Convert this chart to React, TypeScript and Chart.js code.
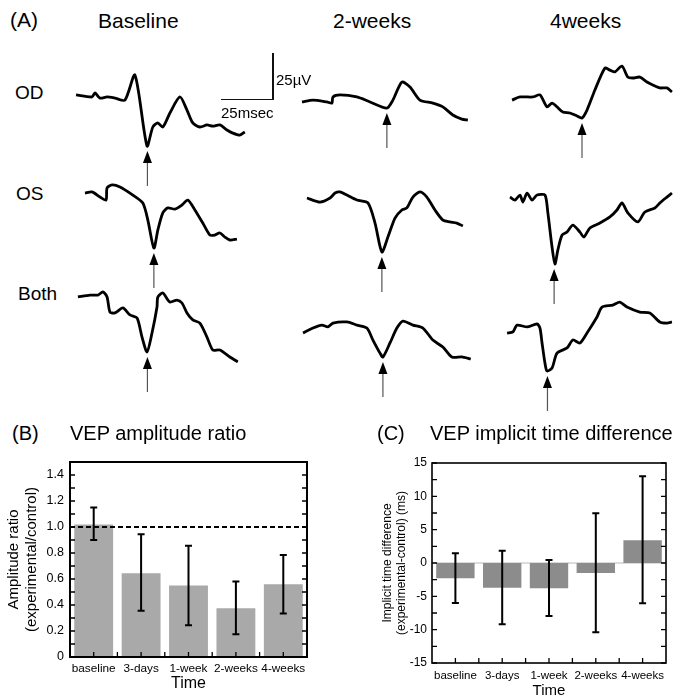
import React, { useEffect, useRef } from 'react';
import { Chart, registerables } from 'chart.js';

Chart.register(...registerables);

const FONT = '"Liberation Sans", Arial, Helvetica, sans-serif';
Chart.defaults.font.family = FONT;
Chart.defaults.color = '#000';

// ---------- Panel B : VEP amplitude ratio ----------
const timeLabels = ['baseline', '3-days', '1-week', '2-weeks', '4-weeks'];
const ampRatio = [1.02, 0.645, 0.55, 0.375, 0.56];
const ampErrLow = [0.9, 0.355, 0.245, 0.175, 0.335];
const ampErrHigh = [1.15, 0.945, 0.855, 0.58, 0.785];
const ampReference = 1;

// ---------- Panel C : VEP implicit time difference (ms) ----------
const timeDiff = [-2.3, -3.7, -3.8, -1.5, 3.4];
const timeErrLow = [-6.0, -9.2, -7.95, -10.4, -6.05];
const timeErrHigh = [1.45, 1.85, 0.45, 7.45, 13.0];

// ---------- Panel A : VEP traces, [time ms, amplitude µV] ----------
const baselineOD = [[2.9, 1.6], [10.6, 0.5], [12.0, 2.7], [14.4, -0.1], [17.8, 0.5], [21.6, -0.1], [26.4, -1.2], [31.2, 12.4], [37.0, -26.1], [39.8, -15.8], [42.2, -13.6], [44.6, -15.8], [48.0, -8.2], [52.8, 0.5], [56.2, -6.6], [59.0, -13.6], [62.4, -15.8], [65.8, -14.7], [68.6, -15.3], [72.0, -14.7], [75.4, -17.4], [78.2, -19.1], [81.6, -20.2], [84.0, -18.5]];
const week2OD = [[1.9, -2.2], [7.2, -1.2], [13.9, -2.2], [16.3, -2.8], [16.8, 0.5], [20.2, 1.6], [28.3, 0.5], [34.6, -2.2], [42.7, -5.5], [45.6, -1.2], [49.9, 8.6], [53.8, 5.9], [58.6, -1.2], [64.8, -2.8], [69.6, -4.9], [74.4, -9.3], [78.7, -11.5], [81.6, -12.0]];
const week4OD = [[5.8, -1.2], [9.6, 0.5], [15.8, 0.5], [19.2, 1.6], [22.6, -4.9], [25.0, -2.8], [27.4, -4.9], [30.2, -7.7], [33.6, -8.2], [37.0, -9.8], [39.4, -10.9], [41.8, -6.6], [45.6, 4.3], [50.4, 16.2], [52.8, 15.1], [55.2, 14.1], [58.6, 17.3], [61.4, 11.3], [63.8, 10.8], [67.2, 11.3], [70.6, 8.6], [73.4, 7.0], [76.8, 5.4], [80.2, 5.4], [82.6, 3.2]];
const baselineOS = [[7.2, 13.5], [10.6, 14.1], [14.4, 11.3], [17.3, 9.7], [17.8, 16.2], [20.2, 17.9], [24.0, 16.8], [30.2, 12.4], [35.0, 8.1], [37.4, -1.2], [40.3, -16.4], [42.2, -6.6], [44.6, 2.7], [47.0, 5.4], [50.4, 4.8], [53.8, 7.0], [56.6, 9.7], [60.0, 4.3], [63.8, -2.8], [67.2, -9.3], [69.6, -9.3], [72.0, -8.2], [74.4, -10.4], [76.8, -12.0], [80.2, -11.5]];
const week2OS = [[4.3, 10.8], [10.6, 8.6], [15.4, 10.8], [17.8, 13.5], [20.2, 14.1], [23.5, 12.4], [28.3, 9.7], [33.6, 8.1], [37.0, -2.8], [40.3, -18.5], [43.2, -10.4], [46.6, -0.1], [49.9, 4.3], [52.3, 5.4], [55.2, 11.3], [58.6, 14.1], [61.9, 11.3], [65.8, 4.3], [69.6, -1.2], [73.0, -2.2], [76.3, -2.8], [79.2, -4.4]];
const week4OS = [[4.8, 11.3], [7.2, 9.7], [9.6, 12.4], [11.0, 8.6], [13.0, 13.5], [15.4, 9.7], [17.8, 12.4], [21.6, 12.4], [23.0, 2.7], [25.0, -15.8], [26.4, -25.0], [27.8, -17.4], [29.8, -9.3], [32.2, -7.7], [35.0, -3.9], [38.4, -7.7], [40.3, -10.4], [43.2, -5.5], [48.0, -2.8], [52.8, 0.5], [56.2, 4.3], [58.6, 8.1], [61.4, 2.7], [66.2, -2.2], [69.6, 3.2], [74.4, 5.4], [76.8, 8.1], [80.2, 11.3], [82.6, 13.5]];
const baselineBoth = [[3.8, 14.1], [9.6, 15.1], [13.4, 15.1], [15.8, 16.8], [17.8, 14.1], [19.2, 5.9], [21.6, 5.4], [25.4, 8.1], [28.8, 4.3], [32.2, 2.7], [34.6, -7.7], [37.0, -15.8], [39.4, -5.5], [41.8, 8.6], [42.2, 14.1], [44.6, 16.2], [48.0, 11.3], [51.4, 12.4], [53.8, 10.8], [56.2, 5.4], [59.0, 1.6], [62.4, -0.1], [65.8, -7.7], [68.6, -14.7], [72.0, -14.7], [76.8, -18.5], [80.6, -21.2]];
const week2Both = [[2.4, -5.5], [7.2, -2.8], [11.5, -1.2], [14.4, -2.2], [16.8, -0.1], [23.5, 0.5], [28.3, -1.2], [33.1, -2.8], [36.0, -9.3], [39.4, -16.4], [40.8, -18.5], [44.2, -10.9], [47.5, -2.8], [50.4, 1.0], [55.2, -1.2], [60.0, -2.8], [64.8, -9.3], [69.6, -13.1], [73.9, -18.5], [78.7, -18.5], [83.0, -19.6]];
const week4Both = [[3.4, -5.5], [6.2, -4.9], [8.2, -1.2], [13.0, -2.2], [17.8, -0.6], [19.2, -2.8], [20.2, -10.9], [21.6, -21.8], [22.6, -26.1], [25.0, -24.5], [27.4, -16.4], [32.2, -13.6], [35.0, -9.3], [38.4, -10.9], [41.8, -5.5], [46.6, 3.2], [49.0, 8.6], [54.2, 9.7], [57.6, 11.3], [61.0, 8.6], [67.2, 5.9], [72.0, 5.4], [76.8, 0.5], [80.2, -0.1], [82.6, 0.5]];

// trough markers (arrows), [latency ms, amplitude µV]
const troughBaselineOD = [37.2, -26.1];
const troughWeek2OD = [42.7, -5.5];
const troughWeek4OD = [39.4, -10.9];
const troughBaselineOS = [40.3, -16.4];
const troughWeek2OS = [40.3, -18.5];
const troughWeek4OS = [26.0, -25.0];
const troughBaselineBoth = [37.2, -15.8];
const troughWeek2Both = [40.8, -18.5];
const troughWeek4Both = [22.8, -26.1];

const columnHeaders = ['Baseline', '2-weeks', '4weeks'];
const rowLabels = ['OD', 'OS', 'Both'];

// layout of trace cells (positions only)
const COL_LEFT = [70, 298, 500];
const ROW_TOP = [50, 170, 275];
const CELL_W = 179;
const CELL_H = 140;

const traceGrid = [
  [baselineOD, week2OD, week4OD],
  [baselineOS, week2OS, week4OS],
  [baselineBoth, week2Both, week4Both],
];
const troughGrid = [
  [troughBaselineOD, troughWeek2OD, troughWeek4OD],
  [troughBaselineOS, troughWeek2OS, troughWeek4OS],
  [troughBaselineBoth, troughWeek2Both, troughWeek4Both],
];

const arrowPlugin = {
  id: 'troughArrow',
  afterDatasetsDraw(chart: any, _args: any, opts: any) {
    const { ctx, scales } = chart;
    const px = scales.x.getPixelForValue(opts.latency);
    const tip = scales.y.getPixelForValue(opts.amp) + 5;
    ctx.save();
    ctx.strokeStyle = '#555';
    ctx.lineWidth = 1.2;
    ctx.beginPath();
    ctx.moveTo(px, tip + 10);
    ctx.lineTo(px, tip + 35);
    ctx.stroke();
    ctx.fillStyle = '#000';
    ctx.beginPath();
    ctx.moveTo(px, tip);
    ctx.lineTo(px - 4.5, tip + 12);
    ctx.lineTo(px + 4.5, tip + 12);
    ctx.closePath();
    ctx.fill();
    ctx.restore();
  },
};

function TraceChart({ points, trough, left, top }: any) {
  const ref = useRef<HTMLCanvasElement | null>(null);
  useEffect(() => {
    const chart = new Chart(ref.current as HTMLCanvasElement, {
      type: 'scatter',
      data: {
        datasets: [
          {
            data: points.map((p: number[]) => ({ x: p[0], y: p[1] })),
            showLine: true,
            borderColor: '#000',
            borderWidth: 2.8,
            pointRadius: 0,
            tension: 0.25,
            fill: false,
          },
        ],
      },
      options: {
        animation: false,
        responsive: false,
        events: [],
        layout: { padding: 0 },
        plugins: {
          legend: { display: false },
          tooltip: { enabled: false },
          troughArrow: { latency: trough[0], amp: trough[1] },
        } as any,
        scales: {
          x: { type: 'linear', display: false, min: 0, max: 86 },
          y: { type: 'linear', display: false, min: -50, max: 26 },
        },
      },
      plugins: [arrowPlugin],
    } as any);
    return () => chart.destroy();
  }, []);
  return (
    <canvas
      ref={ref}
      width={CELL_W}
      height={CELL_H}
      style={{ position: 'absolute', left, top, width: CELL_W, height: CELL_H }}
    />
  );
}

const frameTicksPlugin = {
  id: 'frameTicks',
  beforeDatasetsDraw(chart: any, _args: any, opts: any) {
    if (!opts.zeroLine) return;
    const { ctx, chartArea, scales } = chart;
    const y0 = scales.y.getPixelForValue(0);
    ctx.save();
    ctx.strokeStyle = '#b8b8b8';
    ctx.lineWidth = 1;
    ctx.beginPath();
    ctx.moveTo(chartArea.left, y0);
    ctx.lineTo(chartArea.right, y0);
    ctx.stroke();
    ctx.restore();
  },
  afterDatasetsDraw(chart: any, _args: any, opts: any) {
    const { ctx, chartArea, scales } = chart;
    const { left, right, top, bottom } = chartArea;
    const xs = scales.x;
    const ys = scales.y;
    ctx.save();
    // reference line
    if (opts.refLine !== undefined && opts.refLine !== null) {
      const py = ys.getPixelForValue(opts.refLine);
      ctx.strokeStyle = '#000';
      ctx.lineWidth = 2;
      ctx.setLineDash([5, 3]);
      ctx.beginPath();
      ctx.moveTo(left, py);
      ctx.lineTo(right, py);
      ctx.stroke();
      ctx.setLineDash([]);
    }
    // error bars
    ctx.strokeStyle = '#000';
    ctx.lineWidth = 2;
    opts.low.forEach((lo: number, i: number) => {
      const hi = opts.high[i];
      const cx = xs.getPixelForValue(i);
      const yl = ys.getPixelForValue(lo);
      const yh = ys.getPixelForValue(hi);
      ctx.beginPath();
      ctx.moveTo(cx, yl);
      ctx.lineTo(cx, yh);
      ctx.moveTo(cx - 3.5, yl);
      ctx.lineTo(cx + 3.5, yl);
      ctx.moveTo(cx - 3.5, yh);
      ctx.lineTo(cx + 3.5, yh);
      ctx.stroke();
    });
    // inward ticks on the y sides
    ctx.lineWidth = 1.3;
    const n = Math.round((opts.max - opts.min) / opts.minorStep);
    for (let k = 0; k <= n; k++) {
      const py = ys.getPixelForValue(opts.min + k * opts.minorStep);
      ctx.beginPath();
      ctx.moveTo(left, py);
      ctx.lineTo(left + 5, py);
      ctx.moveTo(right, py);
      ctx.lineTo(right - 5, py);
      ctx.stroke();
    }
    // inward ticks at the bottom (category centres and boundaries)
    const count = chart.data.labels.length;
    const step = (right - left) / count / 2;
    for (let k = 1; k < count * 2; k++) {
      const px = left + k * step;
      ctx.beginPath();
      ctx.moveTo(px, bottom);
      ctx.lineTo(px, bottom - 5);
      ctx.stroke();
    }
    // frame
    ctx.lineWidth = opts.frameWidth;
    ctx.strokeRect(left, top, right - left, bottom - top);
    ctx.restore();
  },
};

function BarPanel({ cfg, left, top, width, height }: any) {
  const ref = useRef<HTMLCanvasElement | null>(null);
  useEffect(() => {
    const chart = new Chart(ref.current as HTMLCanvasElement, {
      type: 'bar',
      data: {
        labels: timeLabels,
        datasets: [
          {
            data: cfg.values,
            backgroundColor: cfg.barColor,
            borderWidth: 0,
            barPercentage: 0.82,
            categoryPercentage: 1,
          },
        ],
      },
      options: {
        animation: false,
        responsive: false,
        events: [],
        layout: { padding: cfg.padding },
        plugins: {
          legend: { display: false },
          tooltip: { enabled: false },
          frameTicks: {
            low: cfg.low,
            high: cfg.high,
            refLine: cfg.refLine,
            zeroLine: cfg.zeroLine,
            min: cfg.min,
            max: cfg.max,
            minorStep: cfg.minorStep,
            frameWidth: cfg.frameWidth,
          },
        } as any,
        scales: {
          x: {
            grid: { display: false, drawTicks: false },
            border: { display: false },
            ticks: {
              color: '#000',
              font: { size: cfg.xTickSize },
              padding: cfg.xTickPad,
              maxRotation: 0,
              autoSkip: false,
            },
            title: {
              display: true,
              text: 'Time',
              color: '#000',
              font: { size: cfg.xTitleSize },
              padding: { top: 0, bottom: 2 },
            },
            afterFit: (s: any) => {
              s.height = cfg.xAxisHeight;
            },
          },
          y: {
            min: cfg.min,
            max: cfg.max,
            grid: { display: false, drawTicks: false },
            border: { display: false },
            ticks: {
              stepSize: cfg.step,
              includeBounds: false,
              color: '#000',
              font: { size: cfg.yTickSize },
              padding: cfg.yTickPad,
            },
            title: {
              display: true,
              text: cfg.yTitle,
              color: '#000',
              font: { size: cfg.yTitleSize },
              padding: { top: cfg.yTitlePad, bottom: 0 },
            },
            afterFit: (s: any) => {
              s.width = cfg.yAxisWidth;
            },
          },
        },
      },
      plugins: [frameTicksPlugin],
    } as any);
    return () => chart.destroy();
  }, []);
  return (
    <canvas
      ref={ref}
      width={width}
      height={height}
      style={{ position: 'absolute', left, top, width, height }}
    />
  );
}

const ampCfg = {
  values: ampRatio,
  low: ampErrLow,
  high: ampErrHigh,
  refLine: ampReference,
  zeroLine: false,
  barColor: '#a9a9a9',
  min: 0,
  max: 1.5,
  step: 0.2,
  minorStep: 0.1,
  frameWidth: 2,
  padding: { top: 22, right: 29, left: 0, bottom: 0 },
  xTickSize: 11.8,
  yTickSize: 12.5,
  xTickPad: 5,
  yTickPad: 6,
  xTitleSize: 16,
  yTitle: ['Amplitude ratio', '(experimental/control)'],
  yTitleSize: 15,
  yTitlePad: 5,
  xAxisHeight: 38,
  yAxisWidth: 70,
};

const timeCfg = {
  values: timeDiff,
  low: timeErrLow,
  high: timeErrHigh,
  refLine: null,
  zeroLine: true,
  barColor: '#8c8c8c',
  min: -15,
  max: 15,
  step: 5,
  minorStep: 2.5,
  frameWidth: 1.6,
  padding: { top: 23, right: 7, left: 0, bottom: 0 },
  xTickSize: 11.5,
  yTickSize: 12,
  xTickPad: 6,
  yTickPad: 5,
  xTitleSize: 15,
  yTitle: ['Implicit time difference', '(experimental-control) (ms)'],
  yTitleSize: 12,
  yTitlePad: 44,
  xAxisHeight: 39,
  yAxisWidth: 96,
};

function Label({ text, left, top, size }: any) {
  return (
    <div
      style={{
        position: 'absolute',
        left,
        top,
        fontSize: size,
        lineHeight: 1,
        whiteSpace: 'nowrap',
        color: '#000',
        fontFamily: FONT,
      }}
    >
      {text}
    </div>
  );
}

export default function App() {
  const headerLeft = [98, 333, 550];
  const rowLabelPos = [
    [15, 83],
    [16, 184],
    [18, 284],
  ];
  return (
    <div
      style={{
        position: 'absolute',
        left: 0,
        top: 0,
        width: 673,
        height: 695,
        overflow: 'hidden',
        background: '#fff',
        fontFamily: FONT,
      }}
    >
      <Label text="(A)" left={10} top={9} size={21} />
      {columnHeaders.map((h, i) => (
        <Label key={h} text={h} left={headerLeft[i]} top={10} size={21} />
      ))}
      {rowLabels.map((r, i) => (
        <Label key={r} text={r} left={rowLabelPos[i][0]} top={rowLabelPos[i][1]} size={19} />
      ))}
      {traceGrid.map((row, ri) =>
        row.map((pts, ci) => (
          <TraceChart
            key={ri + '-' + ci}
            points={pts}
            trough={troughGrid[ri][ci]}
            left={COL_LEFT[ci]}
            top={ROW_TOP[ri]}
          />
        ))
      )}
      {/* scale bar */}
      <div style={{ position: 'absolute', left: 272, top: 53, width: 1.5, height: 47, background: '#111' }} />
      <div style={{ position: 'absolute', left: 221, top: 98.5, width: 52.5, height: 1.5, background: '#111' }} />
      <Label text="25µV" left={276} top={72} size={15} />
      <Label text="25msec" left={221} top={105} size={15} />

      <Label text="(B)" left={12} top={423} size={20} />
      <Label text="VEP amplitude ratio" left={70} top={423} size={20} />
      <Label text="(C)" left={377} top={423} size={20} />
      <Label text="VEP implicit time difference" left={430} top={423} size={20} />

      <BarPanel cfg={ampCfg} left={0} top={440} width={336} height={255} />
      <BarPanel cfg={timeCfg} left={336} top={440} width={337} height={262} />
    </div>
  );
}
